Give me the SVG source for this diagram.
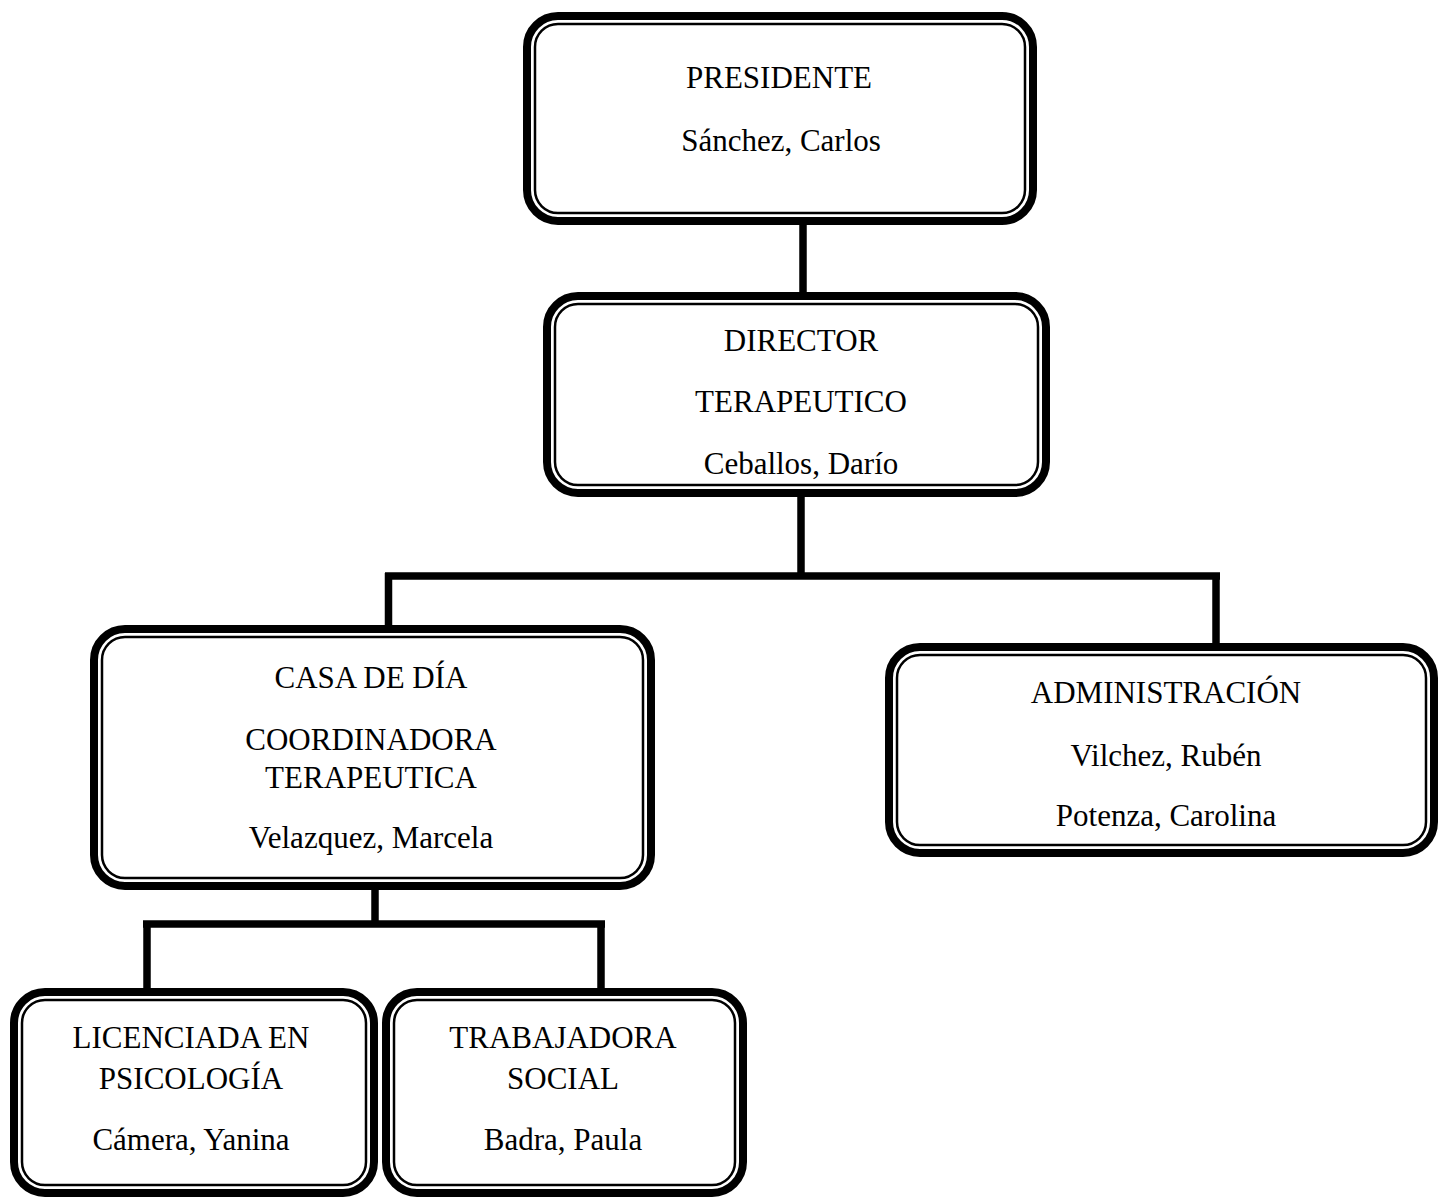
<svg xmlns="http://www.w3.org/2000/svg" width="1440" height="1198" viewBox="0 0 1440 1198">
<style>
.o{fill:#fff;stroke:#000;stroke-width:8}
.i{fill:none;stroke:#000;stroke-width:2.5}
.c{stroke:#000;stroke-width:7.5;fill:none;stroke-linecap:butt}
text{font-family:"Liberation Serif","Times New Roman",serif;font-size:31px;fill:#000;text-anchor:middle}
</style>
<rect width="1440" height="1198" fill="#fff"/>
<g id="connectors">
<line class="c" x1="803" y1="224" x2="803" y2="294"/>
<line class="c" x1="801" y1="496" x2="801" y2="576"/>
<line class="c" x1="385" y1="576" x2="1220" y2="576"/>
<line class="c" x1="388.5" y1="573" x2="388.5" y2="627"/>
<line class="c" x1="1216" y1="573" x2="1216" y2="644"/>
<line class="c" x1="375" y1="889" x2="375" y2="924"/>
<line class="c" x1="143" y1="924" x2="605" y2="924"/>
<line class="c" x1="147" y1="921" x2="147" y2="989"/>
<line class="c" x1="601" y1="921" x2="601" y2="995"/>
</g>
<g id="presidente">
<rect class="o" x="527" y="16" width="506" height="205" rx="31"/>
<rect class="i" x="535" y="24" width="490" height="189" rx="23"/>
<text x="779" y="88">PRESIDENTE</text>
<text x="781" y="151">Sánchez, Carlos</text>
</g>
<g id="director">
<rect class="o" x="547" y="296" width="499" height="197" rx="31"/>
<rect class="i" x="555" y="304" width="483" height="181" rx="23"/>
<text x="801" y="351">DIRECTOR</text>
<text x="801" y="412">TERAPEUTICO</text>
<text x="801" y="474">Ceballos, Darío</text>
</g>
<g id="casa">
<rect class="o" x="94" y="629" width="557" height="257" rx="31"/>
<rect class="i" x="102" y="637" width="541" height="241" rx="23"/>
<text x="371" y="688">CASA DE DÍA</text>
<text x="371" y="750">COORDINADORA</text>
<text x="371" y="788">TERAPEUTICA</text>
<text x="371" y="848">Velazquez, Marcela</text>
</g>
<g id="administracion">
<rect class="o" x="889" y="647" width="545" height="206" rx="31"/>
<rect class="i" x="897" y="655" width="529" height="190" rx="23"/>
<text x="1166" y="703">ADMINISTRACIÓN</text>
<text x="1166" y="766">Vilchez, Rubén</text>
<text x="1166" y="826">Potenza, Carolina</text>
</g>
<g id="licenciada">
<rect class="o" x="14" y="992" width="360" height="201" rx="31"/>
<rect class="i" x="22" y="1000" width="344" height="185" rx="23"/>
<text x="191" y="1048">LICENCIADA EN</text>
<text x="191" y="1089">PSICOLOGÍA</text>
<text x="191" y="1150">Cámera, Yanina</text>
</g>
<g id="trabajadora">
<rect class="o" x="386" y="992" width="357" height="201" rx="31"/>
<rect class="i" x="394" y="1000" width="341" height="185" rx="23"/>
<text x="563" y="1048">TRABAJADORA</text>
<text x="563" y="1089">SOCIAL</text>
<text x="563" y="1150">Badra, Paula</text>
</g>
</svg>
